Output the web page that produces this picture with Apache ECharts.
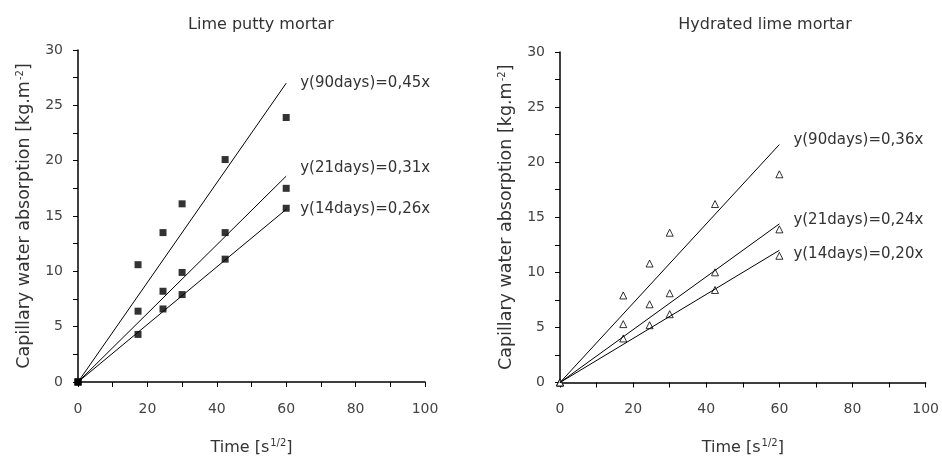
<!DOCTYPE html>
<html>
<head>
<meta charset="utf-8">
<script src="https://cdn.jsdelivr.net/npm/echarts@6.0.0/dist/echarts.min.js"></script>
<style>
  html, body { margin: 0; padding: 0; background: #fff; }
  #chart-container { width: 942px; height: 461px; }
</style>
</head>
<body>
<div id="chart-container"></div>
<script>
// measurement times, sqrt(s)
const times = [0, 17.3, 24.5, 30, 42.4, 60];

// Lime putty mortar
const puttyLabels = ["y(90days)=0,45x", "y(21days)=0,31x", "y(14days)=0,26x"];
const putty90 = [0, 10.6, 13.5, 16.1, 20.1, 23.9];
const putty21 = [0, 6.4, 8.2, 9.9, 13.5, 17.5];
const putty14 = [0, 4.3, 6.6, 7.9, 11.1, 15.7];
const puttyFitEnd = [27, 18.6, 15.6];

// Hydrated lime mortar
const hydratedLabels = ["y(90days)=0,36x", "y(21days)=0,24x", "y(14days)=0,20x"];
const hydrated90 = [0, 7.9, 10.8, 13.6, 16.2, 18.9];
const hydrated21 = [0, 5.3, 7.1, 8.1, 10.0, 13.9];
const hydrated14 = [0, 4.0, 5.2, 6.2, 8.4, 11.5];
const hydratedFitEnd = [21.6, 14.4, 12];

const fitX = [0, 60];
const xTicks = [0, 20, 40, 60, 80, 100];
const yTicks = [0, 5, 10, 15, 20, 25, 30];

const FONT = "DejaVu Sans";
const TXT = "#333";

const pairs = (xs, ys) => xs.map((x, i) => [x, ys[i]]);

const supStyle = { fontSize: 10, verticalAlign: "top", padding: [0, 0, 9, 1] };

function xAxisFor(gridIndex) {
  return {
    type: "value",
    gridIndex,
    min: 0,
    max: 100,
    interval: 10,
    name: "Time [s{sup|1/2}]",
    nameLocation: "middle",
    nameGap: 56,
    nameTextStyle: { fontFamily: FONT, fontSize: 16, color: TXT, rich: { sup: supStyle } },
    axisLine: { onZero: false, lineStyle: { color: "#000", width: 1.5 } },
    axisTick: { length: 5, lineStyle: { color: "#000" } },
    axisLabel: {
      fontFamily: FONT,
      fontSize: 14,
      color: "#444",
      margin: 20,
      formatter: (v) => (xTicks.includes(v) ? String(v) : ""),
    },
    splitLine: { show: false },
  };
}

function yAxisFor(gridIndex) {
  return {
    type: "value",
    gridIndex,
    min: 0,
    max: 30,
    interval: 2.5,
    name: "Capillary water absorption [kg.m{sup|-2}]",
    nameLocation: "middle",
    nameGap: 44,
    nameTextStyle: { fontFamily: FONT, fontSize: 17.5, color: TXT, rich: { sup: supStyle } },
    axisLine: { show: true, onZero: false, lineStyle: { color: "#000", width: 1.5 } },
    axisTick: { show: true, length: 5, lineStyle: { color: "#000" } },
    axisLabel: {
      fontFamily: FONT,
      fontSize: 14,
      color: "#444",
      margin: 15,
      formatter: (v) => (yTicks.includes(v) ? String(v) : ""),
    },
    splitLine: { show: false },
  };
}

function fitSeries(idx, end, label, offset) {
  return {
    type: "line",
    xAxisIndex: idx,
    yAxisIndex: idx,
    data: pairs(fitX, [0, end]),
    symbol: "none",
    silent: true,
    lineStyle: { color: "#000", width: 1 },
    endLabel: {
      show: true,
      formatter: label,
      distance: 14,
      offset,
      fontFamily: FONT,
      fontSize: 15,
      color: TXT,
    },
  };
}

function pointSeries(idx, ys, filled) {
  return {
    type: "scatter",
    xAxisIndex: idx,
    yAxisIndex: idx,
    data: pairs(times, ys),
    symbol: filled ? "rect" : "triangle",
    symbolSize: 7,
    itemStyle: filled
      ? { color: "#000" }
      : { color: "#fff", borderColor: "#000", borderWidth: 1 },
  };
}

const chart = echarts.init(document.getElementById("chart-container"), null, {
  renderer: "canvas",
});

const titleStyle = { fontFamily: FONT, fontSize: 16, fontWeight: "normal", color: TXT };

const option = {
  animation: false,
  title: [
    { text: "Lime putty mortar", left: 256, top: 12, textAlign: "center", textStyle: titleStyle },
    { text: "Hydrated lime mortar", left: 760, top: 12, textAlign: "center", textStyle: titleStyle },
  ],
  grid: [
    { left: 78, right: 517, top: 50, bottom: 79 },
    { left: 560, right: 16, top: 52, bottom: 78 },
  ],
  xAxis: [xAxisFor(0), xAxisFor(1)],
  yAxis: [yAxisFor(0), yAxisFor(1)],
  series: [
    fitSeries(0, puttyFitEnd[0], puttyLabels[0], [0, 0]),
    fitSeries(0, puttyFitEnd[1], puttyLabels[1], [0, -8]),
    fitSeries(0, puttyFitEnd[2], puttyLabels[2], [0, 0]),
    pointSeries(0, putty90, true),
    pointSeries(0, putty21, true),
    pointSeries(0, putty14, true),
    fitSeries(1, hydratedFitEnd[0], hydratedLabels[0], [0, -4]),
    fitSeries(1, hydratedFitEnd[1], hydratedLabels[1], [0, -4]),
    fitSeries(1, hydratedFitEnd[2], hydratedLabels[2], [0, 4]),
    pointSeries(1, hydrated90, false),
    pointSeries(1, hydrated21, false),
    pointSeries(1, hydrated14, false),
  ],
};

chart.setOption(option);
window.addEventListener("resize", () => chart.resize());
</script>
</body>
</html>
